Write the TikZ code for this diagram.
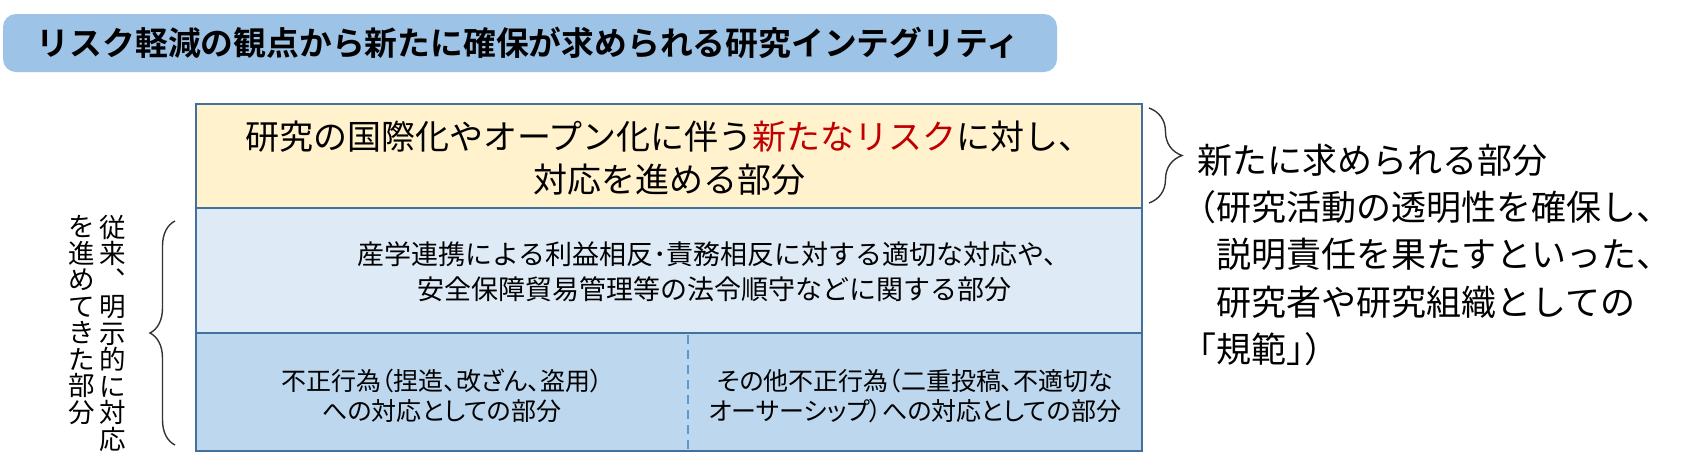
\documentclass[tikz,border=0pt]{standalone}
\usepackage{fontspec}
\setmainfont{Noto Sans CJK JP}[BoldFont={Noto Sans CJK JP Bold}]
\newfontfamily\jpprop{Noto Sans CJK JP}[RawFeature=+palt]
\usepackage{tikz}
\usetikzlibrary{decorations.pathreplacing}
\usetikzlibrary{positioning}
\definecolor{titleblue}{HTML}{9DC3E6}
\definecolor{newyellow}{HTML}{FFF2CC}
\definecolor{paleblue}{HTML}{DEEBF7}
\definecolor{lowblue}{HTML}{BDD7EE}
\definecolor{frameblue}{HTML}{41719C}
\definecolor{dashblue}{HTML}{5B9BD5}
\definecolor{riskred}{HTML}{C00000}
\tikzset{
  band/.style={draw=frameblue, line width=1pt},
  bracket/.style={decorate, draw=black!80, line width=0.7pt},
  label/.style={inner sep=0pt, align=center}
}

\begin{document}
\begin{tikzpicture}[x=0.5pt, y=-0.5pt]
  \path[use as bounding box] (0, 0) rectangle (1687, 473);
  \fill[titleblue, rounded corners=6.5pt] (3, 14) rectangle (1057, 72);
  \node[label, font=\fontsize{16.4pt}{20pt}\bfseries] (title) at (528, 43)
    {リスク軽減の観点から新たに確保が求められる研究インテグリティ};

  \filldraw[band, fill=newyellow] (196, 104) rectangle (1142, 208);
  \filldraw[band, fill=paleblue]  (196, 208) rectangle (1142, 333);
  \filldraw[band, fill=lowblue]   (196, 333) rectangle (1142, 451);
  \draw[dashblue, line width=1pt, dash pattern=on 4.5pt off 3pt] (688, 335) -- (688, 449);

  \node[label, font=\fontsize{17pt}{21.5pt}\selectfont] (newrisk) at (669, 158)
    {研究の国際化やオープン化に伴う\textcolor{riskred}{新たなリスク}に対し、\\対応を進める部分};
  \node[label, font=\fontsize{13.5pt}{17.5pt}\selectfont] (coi) at (714, 272)
    {産学連携による利益相反･責務相反に対する適切な対応や、\\安全保障貿易管理等の法令順守などに関する部分};
  \node[label, font=\fontsize{12.5pt}{15pt}\jpprop] (fraud) at (442, 396)
    {不正行為（捏造、改ざん、盗用）\\への対応としての部分};
  \node[label, font=\fontsize{12.5pt}{15pt}\jpprop] (otherfraud) at (915, 396)
    {その他不正行為（二重投稿、不適切な\\オーサーシップ）への対応としての部分};

  % braces
  \draw[bracket, decoration={brace, amplitude=12.5pt}] (175, 445) -- (175, 221);
  \draw[bracket, decoration={brace, amplitude=16.5pt}] (1149, 108) -- (1149, 203);

  \node[label, font=\fontsize{13.25pt}{13.25pt}\selectfont] (pastA) at (113, 333)
    {従\\来\\︑\\明\\示\\的\\に\\対\\応};
  \node[label, font=\fontsize{13.25pt}{13.25pt}\selectfont] (pastB) at (82, 320)
    {を\\進\\め\\て\\き\\た\\部\\分};

  \node[label, align=left, anchor=west, font=\fontsize{17.5pt}{23.6pt}\selectfont] (norm) at (1197, 255)
    {新たに求められる部分\\
     \hspace{-0.45em}（研究活動の透明性を確保し、\\
     \hspace{0.55em}説明責任を果たすといった、\\
     \hspace{0.55em}研究者や研究組織としての\\
     \hspace{-0.45em}「規範」\hspace{-0.5em}）};
\end{tikzpicture}
\end{document}
